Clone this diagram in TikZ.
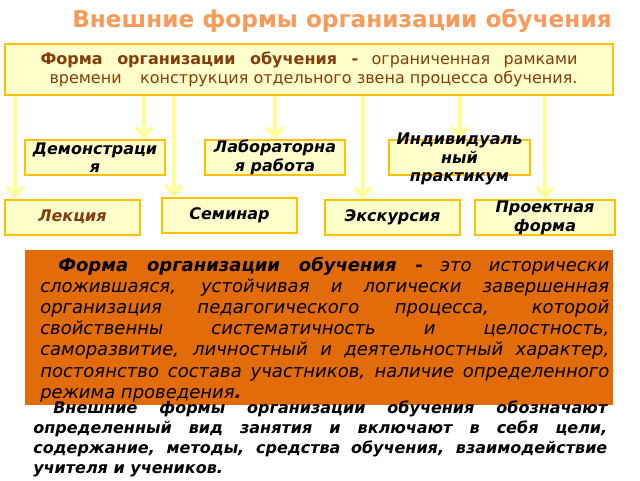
\documentclass[tikz,border=0pt]{standalone}
\usepackage{fontspec}
\setmainfont{DejaVu Sans}[
  BoldFont={DejaVu Sans Bold},
  ItalicFont={DejaVu Sans Oblique},
  BoldItalicFont={DejaVu Sans Bold Oblique}]
\usetikzlibrary{arrows.meta,positioning,backgrounds}
\definecolor{titleorange}{HTML}{FA9A58}
\definecolor{boxfill}{HTML}{FFFFCC}
\definecolor{boxline}{HTML}{FFC000}
\definecolor{arrowyellow}{HTML}{FFFF99}
\definecolor{deepbrown}{HTML}{843C0C}
\definecolor{blockorange}{HTML}{E36C0A}

\tikzset{
  formbox/.style={draw=boxline,fill=boxfill,line width=1.5pt,inner sep=0pt,
    minimum height=26.25pt,align=center,
    font=\bfseries\itshape\fontsize{12}{14}\selectfont},
  link/.style={arrowyellow,line width=3pt,-{Straight Barb[length=6.5pt,width=12pt]}},
}

\begin{document}
\begin{tikzpicture}[x=0.75pt,y=-0.75pt]
    \useasboundingbox (0,0) rectangle (640,480);
    % title
    \node[anchor=base west,inner sep=0pt,text=titleorange,
      font=\bfseries\fontsize{17.4}{20}\selectfont] (title) at (72,27)
      {Внешние формы организации обучения};
    % definition box on top
    \node[draw=boxline,fill=boxfill,line width=1.5pt,minimum width=456pt,
      minimum height=38.25pt,inner sep=0pt,align=right,text=deepbrown,
      font=\fontsize{12}{14.25}\selectfont] (top) at (309,69.5)
      {\makebox[402.75pt][s]{\textbf{Форма организации обучения -} ограниченная рамками}\\
       \makebox[396pt]{времени\hfill конструкция отдельного звена процесса обучения.}};
    % first row
    \node[formbox,minimum width=105pt] (demo) at (95,157.5) {Демонстраци\\я};
    \node[formbox,minimum width=105pt] (lab) at (275,157.5) {Лабораторна\\я работа};
    \node[formbox,minimum width=105.75pt] (indiv) at (459.5,157.5)
      {\smash{\raisebox{-4.5pt}{\begin{tabular}{@{}c@{}}Индивидуаль\\ный\\практикум\end{tabular}}}};
    % second row
    \node[formbox,minimum width=101.25pt,text=deepbrown] (lect) at (72.5,217) {Лекция};
    \node[formbox,minimum width=101.25pt] (sem) at (229.5,215.5) {Семинар};
    \node[formbox,minimum width=101.25pt] (exc) at (392.5,217.5) {Экскурсия};
    \node[formbox,minimum width=105pt] (proj) at (545,217.5) {Проектная\\форма};
    % arrow ends
    \coordinate (lectin) at ([xshift=-43.1pt]lect.north);
    \coordinate (demoin) at ([xshift=36.75pt]demo.north);
    \coordinate (semin) at ([xshift=-41.6pt]sem.north);
    \coordinate (excin) at ([xshift=-22.1pt]exc.north);
    \begin{pgfonlayer}{background}
      \foreach \e in {lectin,demoin,semin,lab.north,excin,indiv.north,proj.north}
        \draw[link] (top.south -| \e) -- (\e);
    \end{pgfonlayer}
    % orange block
    \node[fill=blockorange,minimum width=441pt,minimum height=116.25pt,inner sep=0pt]
      (defblock) at (319,327.5) {};
    \node[anchor=base west,inner sep=0pt,align=left,
      font=\itshape\fontsize{13.5}{15.9}\selectfont] (deftext) at (40,398.2)
      {\hspace*{13.5pt}\makebox[413.25pt][s]{\textbf{Форма организации обучения -} это исторически}\\
       \makebox[426.75pt][s]{сложившаяся, устойчивая и логически завершенная}\\
       \makebox[426.75pt][s]{организация педагогического процесса, которой}\\
       \makebox[426.75pt][s]{свойственны систематичность и целостность,}\\
       \makebox[426.75pt][s]{саморазвитие, личностный и деятельностный характер,}\\
       \makebox[426.75pt][s]{постоянство состава участников, наличие определенного}\\
       режима проведения\textbf{.}};
    % closing note
    \node[anchor=base west,inner sep=0pt,align=left,
      font=\bfseries\itshape\fontsize{12}{15}\selectfont] (note) at (33,473)
      {\hspace*{15pt}\makebox[415.5pt][s]{Внешние формы организации обучения обозначают}\\
       \makebox[430.5pt][s]{определенный вид занятия и включают в себя цели,}\\
       \makebox[430.5pt][s]{содержание, методы, средства обучения, взаимодействие}\\
       учителя и учеников.};
\end{tikzpicture}
\end{document}
